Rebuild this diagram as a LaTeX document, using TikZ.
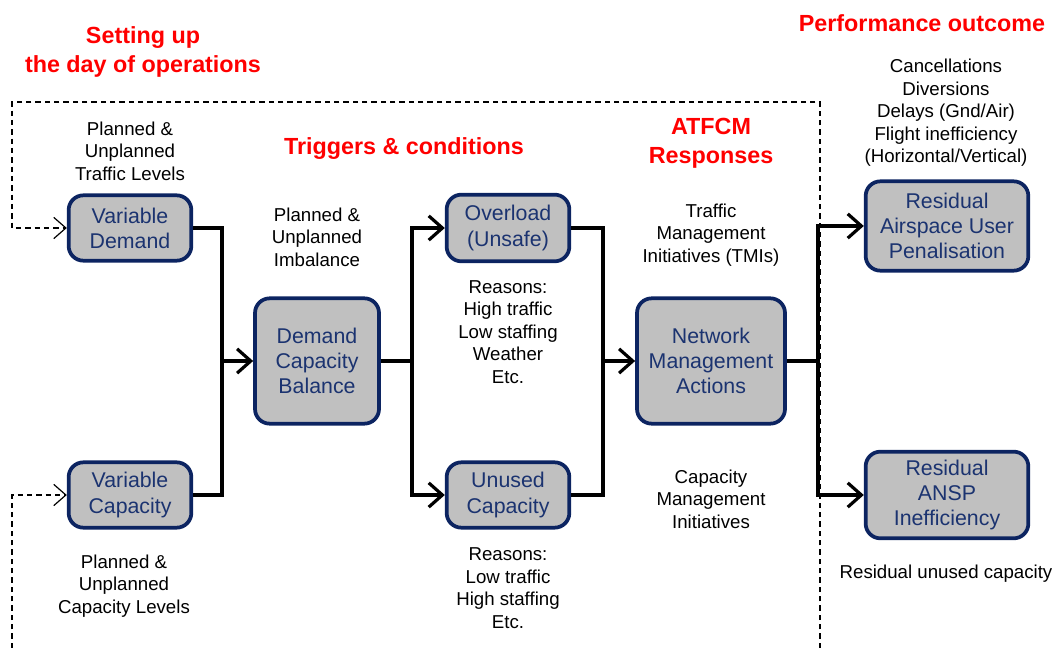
\documentclass[tikz,border=0pt]{standalone}
\usepackage{fontspec}
\setmainfont{Liberation Sans}
\usetikzlibrary{arrows.meta}

\definecolor{boxline}{HTML}{0C2461}
\definecolor{boxfill}{HTML}{C0C0C0}
\definecolor{boxtext}{HTML}{1B3370}
\definecolor{headred}{HTML}{FF0000}

\begin{document}
\begin{tikzpicture}[
  x=0.75pt,
  y=-0.75pt,
  stage/.style={
    draw=boxline,
    fill=boxfill,
    text=boxtext,
    rounded corners=11pt,
    line width=2.8pt,
    align=center,
    inner sep=0pt,
    font=\fontsize{16}{18.8}\selectfont
  },
  note/.style={
    align=center,
    inner sep=0pt,
    font=\fontsize{14}{16.9}\selectfont
  },
  heading/.style={
    align=center,
    inner sep=0pt,
    text=headred,
    font=\fontsize{17.5}{21.5}\selectfont\bfseries
  },
  link/.style={
    draw=black,
    line width=2.6pt
  },
  flow arrow/.style={
    link,
    -{Straight Barb[length=3.6mm,width=6.4mm,line width=2.4pt]}
  },
  frame arrow/.style={
    draw=black,
    line width=0.9pt,
    dash pattern=on 4pt off 3pt,
    -{Straight Barb[length=3.2mm,width=5.6mm,line width=0.9pt]}
  }
]
\useasboundingbox (0,0) rectangle (1060,648);

% boxes
\node[stage,minimum width=92pt,minimum height=49pt] (demand) at (130,228) {Variable\\Demand};
\node[stage,minimum width=92pt,minimum height=49pt] (capacity) at (130,495) {Variable\\Capacity};
\node[stage,minimum width=93pt,minimum height=94pt] (balance) at (317,361) {Demand\\Capacity\\Balance};
\node[stage,minimum width=92pt,minimum height=50pt] (overload) at (508,228) {Overload\\(Unsafe)};
\node[stage,minimum width=92pt,minimum height=49pt] (unused) at (508,495) {Unused\\Capacity};
\node[stage,minimum width=111pt,minimum height=94pt] (network) at (711,361) {Network\\Management\\Actions};
\node[stage,minimum width=122pt,minimum height=67pt] (penalty) at (947,226) {Residual\\Airspace User\\Penalisation};
\node[stage,minimum width=122pt,minimum height=65pt] (ansp) at (947,495) {Residual\\ANSP\\Inefficiency};

% headings
\node[heading] (setup-head) at (143,52) {Setting up\\the day of operations};
\node[heading] (trigger-head) at (404,149) {Triggers \& conditions};
\node[heading] (atfcm-head) at (711,143) {ATFCM\\Responses};
\node[heading] (outcome-head) at (922,23) {Performance outcome};

% notes
\node[note] (traffic-note) at (130,151) {Planned \&\\Unplanned\\Traffic Levels};
\node[note] (capacity-note) at (124,586) {Planned \&\\Unplanned\\Capacity Levels};
\node[note] (imbalance-note) at (317,237) {Planned \&\\Unplanned\\Imbalance};
\node[note] (overload-note) at (508,332) {Reasons:\\High traffic\\Low staffing\\Weather\\Etc.};
\node[note] (unused-note) at (508,588) {Reasons:\\Low traffic\\High staffing\\Etc.};
\node[note] (tmi-note) at (711,235) {Traffic\\Management\\Initiatives (TMIs)};
\node[note] (cmi-note) at (711,499) {Capacity\\Management\\Initiatives};
\node[note] (outcome-note) at (946,113) {Cancellations\\Diversions\\Delays (Gnd/Air)\\Flight inefficiency\\(Horizontal/Vertical)};
\node[note] (residual-note) at (946,574) {Residual unused capacity};

% junctions
\coordinate (join-a) at (222,361);
\coordinate (split-b) at (412,361);
\coordinate (join-c) at (603,361);
\coordinate (split-d) at (818,361);

\draw[link] (demand.east) -| (join-a) |- (capacity.east);
\draw[flow arrow] (join-a) -- (balance.west);
\draw[link] (balance.east) -- (split-b);
\draw[flow arrow] (split-b) |- (overload.west);
\draw[flow arrow] (split-b) |- (unused.west);
\draw[link] (overload.east) -| (join-c) |- (unused.east);
\draw[flow arrow] (join-c) -- (network.west);
\draw[link] (network.east) -- (split-d);
\draw[flow arrow] (split-d) |- (penalty.west);
\draw[flow arrow] (split-d) |- (ansp.west);

% dashed frame
\coordinate (frame-tl) at (12,102);
\coordinate (frame-tr) at (820,102);
\coordinate (frame-br) at (820,648);
\coordinate (frame-bl) at (12,648);

\draw[frame arrow] (frame-br) -- (frame-tr) -- (frame-tl) |- (demand.west);
\draw[frame arrow] (frame-bl) |- (capacity.west);

\end{tikzpicture}
\end{document}
